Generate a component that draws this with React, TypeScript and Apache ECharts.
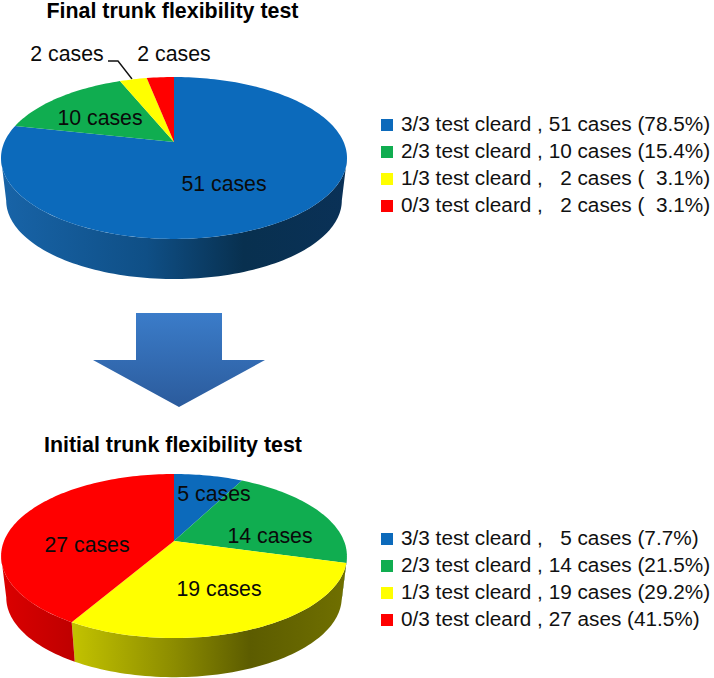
import React, { useEffect, useRef } from "react";
import * as echarts from "echarts";

const WIDTH = 714;
const HEIGHT = 678;
const FONT = '"Liberation Sans", Arial, sans-serif';

const categories = ["3/3 test cleard", "2/3 test cleard", "1/3 test cleard", "0/3 test cleard"];
const finalCases = [51, 10, 2, 2];
const initialCases = [5, 14, 19, 27];
const finalSliceLabels = ["51 cases", "10 cases", "2 cases", "2 cases"];
const initialSliceLabels = ["5 cases", "14 cases", "19 cases", "27 cases"];
const finalLegend = [
  " , 51 cases (78.5%)",
  " , 10 cases (15.4%)",
  " ,   2 cases (  3.1%)",
  " ,   2 cases (  3.1%)",
];
const initialLegend = [
  " ,   5 cases (7.7%)",
  " , 14 cases (21.5%)",
  " , 19 cases (29.2%)",
  " , 27 ases (41.5%)",
];

// Styles and layout, kept apart from the data
const faceColors = ["#0c6abb", "#10ad50", "#ffff00", "#ff0000"];
const wallStops = [
  [[0, "#1864a8"], [0.42, "#0f4f86"], [0.7, "#08304f"], [1, "#0a3157"]],
  [[0, "#0c8a40"], [1, "#064a22"]],
  [[0, "#d4d400"], [0.2, "#c4c400"], [0.5, "#8c8c00"], [0.72, "#5c5c00"], [1, "#707000"]],
  [[0, "#dc0000"], [0.2, "#c00000"], [1, "#800000"]],
];
const finalLabelPos = [[224, 184], [100, 118], [67, 54], [174, 54]];
const initialLabelPos = [[214, 494], [270, 536], [219, 589], [87, 545]];

interface Pie {
  values: number[];
  labels: string[];
  labelPos: number[][];
  cx: number;
  apexY: number;
  b: number;
  a: number;
  k: number;
  depth: number;
  shrink: number;
}

const finalPie: Pie = {
  values: finalCases, labels: finalSliceLabels, labelPos: finalLabelPos,
  cx: 174, apexY: 142, b: 169.6, a: 77.8, k: -0.1975, depth: 43, shrink: 0.97,
};
const initialPie: Pie = {
  values: initialCases, labels: initialSliceLabels, labelPos: initialLabelPos,
  cx: 174, apexY: 541, b: 170, a: 79.3, k: -0.183, depth: 42, shrink: 0.97,
};

// Perspective view of a disc; theta runs clockwise from the top.
function project(p: Pie, theta: number, lower: boolean): number[] {
  const u = Math.sin(theta);
  const v = -Math.cos(theta);
  const w = 1 + p.k * v;
  const s = lower ? p.shrink : 1;
  return [p.cx + (u * p.b * s) / w, p.apexY + (lower ? p.depth : 0) + (v * p.a * s) / w];
}

function sliceAngles(p: Pie, index: number): number[] {
  const total = p.values.reduce((acc, x) => acc + x, 0);
  const before = p.values.slice(0, index).reduce((acc, x) => acc + x, 0);
  const toAngle = (x: number) => (x / total) * Math.PI * 2;
  return [toAngle(before), toAngle(before + p.values[index])];
}

function arcPoints(p: Pie, from: number, to: number, lower: boolean): number[][] {
  const steps = Math.max(2, Math.ceil((Math.abs(to - from) / Math.PI) * 120));
  const pts: number[][] = [];
  for (let i = 0; i <= steps; i++) pts.push(project(p, from + ((to - from) * i) / steps, lower));
  return pts;
}

function wallSeries(p: Pie) {
  return {
    type: "custom",
    coordinateSystem: "none",
    silent: true,
    z: 1,
    data: p.values,
    renderItem: (params: any) => {
      const i = params.dataIndex;
      const [s, e] = sliceAngles(p, i);
      const frontStart = Math.acos(p.k);
      const frontEnd = Math.PI * 2 - frontStart;
      const from = Math.max(s, frontStart);
      const to = Math.min(e, frontEnd);
      if (to <= from) return { type: "group", children: [] };
      const points = [...arcPoints(p, from, to, false), ...arcPoints(p, to, from, true)];
      return {
        type: "polygon",
        shape: { points },
        style: {
          fill: {
            type: "linear", x: 0, y: 0, x2: 348, y2: 0, global: true,
            colorStops: wallStops[i].map(([offset, color]) => ({ offset, color })),
          },
        },
      };
    },
  };
}

function faceSeries(p: Pie) {
  return {
    type: "custom",
    coordinateSystem: "none",
    silent: true,
    z: 2,
    data: p.values,
    renderItem: (params: any) => {
      const i = params.dataIndex;
      const [s, e] = sliceAngles(p, i);
      const apex = [p.cx, p.apexY];
      return {
        type: "group",
        children: [
          {
            type: "polygon",
            shape: { points: [apex, ...arcPoints(p, s, e, false)] },
            style: { fill: faceColors[i] },
          },
          {
            type: "text",
            z2: 10,
            style: {
              x: p.labelPos[i][0], y: p.labelPos[i][1], text: p.labels[i],
              font: `21.3px ${FONT}`, fill: "#0a0a0a", align: "center", verticalAlign: "middle",
            },
          },
        ],
      };
    },
  };
}

const legendRowsFinal = [123, 150, 177, 204];
const legendRowsInitial = [537, 564, 591, 618];

function legendGraphics(suffixes: string[], rows: number[]) {
  const out: any[] = [];
  categories.forEach((name, i) => {
    out.push({
      type: "rect",
      shape: { x: 381, y: rows[i] - 4, width: 12, height: 12 },
      style: { fill: faceColors[i] },
    });
    out.push({
      type: "text",
      style: {
        x: 401, y: rows[i], text: name + suffixes[i],
        font: `20.75px ${FONT}`, fill: "#111", align: "left", verticalAlign: "middle",
      },
    });
  });
  return out;
}

function buildOption() {
  return {
    animation: false,
    backgroundColor: "#ffffff",
    series: [wallSeries(finalPie), faceSeries(finalPie), wallSeries(initialPie), faceSeries(initialPie)],
    graphic: [
      {
        type: "text",
        style: {
          x: 172.5, y: 10.8, text: "Final trunk flexibility test",
          font: `bold 21.4px ${FONT}`, fill: "#000", align: "center", verticalAlign: "middle",
        },
      },
      {
        type: "text",
        style: {
          x: 173, y: 445, text: "Initial trunk flexibility test",
          font: `bold 21.4px ${FONT}`, fill: "#000", align: "center", verticalAlign: "middle",
        },
      },
      {
        type: "polyline",
        shape: { points: [[108, 61], [118, 61], [132, 79]] },
        style: { stroke: "#111", lineWidth: 1.4, fill: "none" },
      },
      {
        type: "polygon",
        shape: {
          points: [[136, 313], [222, 313], [222, 360], [265, 360], [179, 407], [93, 360], [136, 360]],
        },
        style: {
          fill: {
            type: "linear", x: 0, y: 313, x2: 0, y2: 407, global: true,
            colorStops: [
              { offset: 0, color: "#3b7cc9" },
              { offset: 1, color: "#2b5b9c" },
            ],
          },
        },
      },
      ...legendGraphics(finalLegend, legendRowsFinal),
      ...legendGraphics(initialLegend, legendRowsInitial),
    ],
  };
}

export default function App() {
  const ref = useRef<HTMLDivElement>(null);
  useEffect(() => {
    const chart = echarts.init(ref.current!, undefined, { renderer: "svg" });
    chart.setOption(buildOption() as any);
    return () => chart.dispose();
  }, []);
  return (
    <div
      ref={ref}
      style={{ position: "fixed", left: 0, top: 0, width: WIDTH, height: HEIGHT }}
    />
  );
}
